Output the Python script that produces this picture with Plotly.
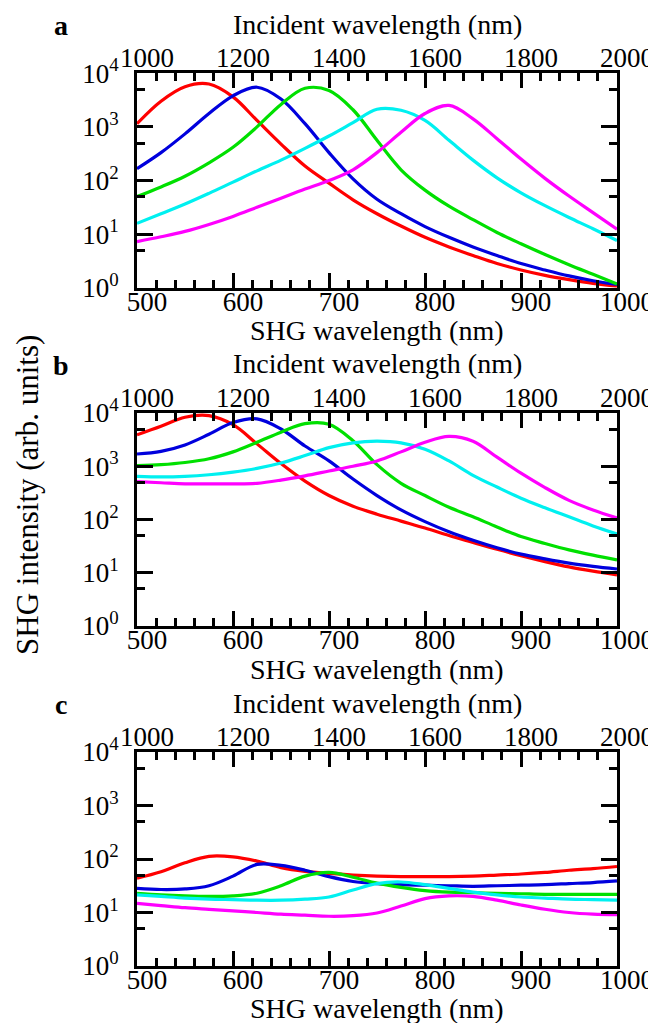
import plotly.graph_objects as go

# ---------------- data: log10(SHG intensity) read on a common SHG-wavelength grid ----------------
shg_x = [500, 525, 550, 575, 600, 625, 650, 675, 700, 725, 750, 775, 800, 825, 850, 875, 900, 925, 950, 975, 1000]

# Panel a
a_red = [3.06, 3.48, 3.75, 3.80, 3.56, 3.12, 2.68, 2.27, 1.95, 1.64, 1.38, 1.15, 0.94, 0.76, 0.60, 0.45, 0.33, 0.23, 0.15, 0.08, 0.03]
a_blue = [2.22, 2.52, 2.87, 3.25, 3.58, 3.74, 3.52, 3.06, 2.52, 2.03, 1.65, 1.38, 1.14, 0.94, 0.76, 0.60, 0.45, 0.33, 0.22, 0.13, 0.06]
a_green = [1.70, 1.88, 2.08, 2.33, 2.62, 3.00, 3.42, 3.72, 3.68, 3.32, 2.75, 2.20, 1.82, 1.52, 1.27, 1.03, 0.82, 0.62, 0.43, 0.25, 0.07]
a_cyan = [1.20, 1.38, 1.56, 1.76, 1.97, 2.18, 2.38, 2.60, 2.83, 3.08, 3.33, 3.31, 3.12, 2.75, 2.38, 2.05, 1.77, 1.53, 1.31, 1.10, 0.88]
a_magenta = [0.86, 0.95, 1.05, 1.18, 1.33, 1.50, 1.67, 1.84, 2.00, 2.20, 2.52, 2.90, 3.25, 3.40, 3.15, 2.78, 2.40, 2.04, 1.71, 1.40, 1.09]

# Panel b
b_red = [3.59, 3.75, 3.92, 3.95, 3.78, 3.42, 3.05, 2.72, 2.45, 2.25, 2.10, 1.97, 1.84, 1.70, 1.57, 1.44, 1.32, 1.21, 1.11, 1.03, 0.96]
b_blue = [3.23, 3.28, 3.40, 3.60, 3.82, 3.89, 3.70, 3.38, 3.10, 2.76, 2.45, 2.18, 1.96, 1.77, 1.61, 1.47, 1.35, 1.26, 1.18, 1.12, 1.07]
b_green = [3.01, 3.03, 3.07, 3.14, 3.27, 3.45, 3.64, 3.80, 3.79, 3.48, 3.03, 2.68, 2.45, 2.23, 2.05, 1.86, 1.68, 1.55, 1.43, 1.33, 1.24]
b_cyan = [2.81, 2.80, 2.81, 2.84, 2.89, 2.96, 3.06, 3.20, 3.35, 3.44, 3.47, 3.44, 3.32, 3.10, 2.83, 2.61, 2.40, 2.22, 2.05, 1.88, 1.73]
b_magenta = [2.71, 2.69, 2.67, 2.67, 2.67, 2.68, 2.74, 2.82, 2.91, 3.00, 3.10, 3.27, 3.45, 3.56, 3.47, 3.17, 2.87, 2.60, 2.36, 2.18, 2.03]

# Panel c
c_red = [1.64, 1.76, 1.93, 2.05, 2.04, 1.96, 1.84, 1.77, 1.73, 1.70, 1.68, 1.67, 1.67, 1.67, 1.68, 1.70, 1.72, 1.75, 1.79, 1.82, 1.86]
c_blue = [1.45, 1.43, 1.44, 1.50, 1.68, 1.90, 1.88, 1.79, 1.67, 1.58, 1.54, 1.52, 1.51, 1.50, 1.49, 1.50, 1.51, 1.52, 1.54, 1.56, 1.59]
c_green = [1.36, 1.33, 1.31, 1.30, 1.31, 1.36, 1.50, 1.68, 1.75, 1.66, 1.55, 1.47, 1.41, 1.38, 1.37, 1.36, 1.35, 1.34, 1.34, 1.34, 1.34]
c_cyan = [1.33, 1.30, 1.27, 1.25, 1.24, 1.23, 1.23, 1.25, 1.29, 1.42, 1.54, 1.57, 1.52, 1.45, 1.38, 1.33, 1.29, 1.27, 1.25, 1.24, 1.23]
c_magenta = [1.17, 1.13, 1.09, 1.06, 1.03, 1.00, 0.97, 0.95, 0.93, 0.94, 0.99, 1.12, 1.26, 1.31, 1.30, 1.23, 1.14, 1.06, 1.00, 0.97, 0.96]

colors = ["#ff0000", "#0000dd", "#00e000", "#00f0f0", "#ff00ff"]
panel_labels = ["a", "b", "c"]
y_tickvals = [1, 10, 100, 1000, 10000]
y_ticktext = ["10<sup>0</sup>", "10<sup>1</sup>", "10<sup>2</sup>", "10<sup>3</sup>", "10<sup>4</sup>"]
y_minorvals = [5, 50, 500, 5000]
bottom_title = "SHG wavelength (nm)"
top_title = "Incident wavelength (nm)"
y_title = "SHG intensity (arb. units)"

panels = [
    [a_red, a_blue, a_green, a_cyan, a_magenta],
    [b_red, b_blue, b_green, b_cyan, b_magenta],
    [c_red, c_blue, c_green, c_cyan, c_magenta],
]

# The page body has an 8 px margin, so the figure is drawn 8 px right/down of the window corner.
OFF = 8
W, H = 656 - OFF, 1023 - OFF
FONT = "Liberation Serif"


def px_x(p):  # screen x pixel -> paper fraction
    return (p - OFF) / W


def px_y(p):  # screen y pixel (from top) -> paper fraction
    return 1 - (p - OFF) / H


x_dom = [px_x(137), px_x(617)]
frames = [(73.3, 287.7), (413.0, 626.0), (752.0, 966.0)]  # top, bottom screen pixel
bottom_title_gap = [43, 43, 42]

fig = go.Figure()
layout = dict(
    template="none",
    width=W, height=H, margin=dict(l=0, r=0, t=0, b=0, pad=0), autosize=False,
    paper_bgcolor="white", plot_bgcolor="white", showlegend=False,
    font=dict(family=FONT, size=27, color="black"),
)
annotations = []

for i, series in enumerate(panels):
    xb = 2 * i + 1
    xt = 2 * i + 2
    yi = i + 1
    xb_name = "x" if xb == 1 else f"x{xb}"
    xt_name = f"x{xt}"
    y_name = "y" if yi == 1 else f"y{yi}"
    for ys, col in zip(series, colors):
        fig.add_trace(go.Scatter(
            x=shg_x, y=[10 ** v for v in ys], mode="lines",
            line=dict(color=col, width=3.2, shape="spline", smoothing=1.0),
            xaxis=xb_name, yaxis=y_name, hoverinfo="skip",
        ))
    # invisible trace so the incident-wavelength (top) axis is drawn
    fig.add_trace(go.Scatter(
        x=[2 * v for v in shg_x], y=[10 ** v for v in series[0]], mode="lines",
        line=dict(width=0, color="rgba(0,0,0,0)"), opacity=0,
        xaxis=xt_name, yaxis=y_name, hoverinfo="skip",
    ))
    top, bot = frames[i]
    dom = [px_y(bot), px_y(top)]
    layout[f"xaxis{xb}"] = dict(
        domain=x_dom, range=[500, 1000], anchor=y_name, automargin=False,
        tickmode="linear", tick0=500, dtick=100,
        ticks="inside", ticklen=15, tickwidth=2.5, tickcolor="black",
        minor=dict(ticks="inside", dtick=20, tick0=500, ticklen=8, tickwidth=2.5, tickcolor="black", showgrid=False),
        showline=True, linewidth=3, linecolor="black", mirror=True,
        showgrid=False, zeroline=False, ticklabelshift=10, ticklabelstandoff=-12,
        tickfont=dict(family=FONT, size=27, color="black"),
    )
    layout[f"xaxis{xt}"] = dict(
        domain=x_dom, range=[1000, 2000], anchor=y_name, overlaying=xb_name, side="top",
        automargin=False,
        tickmode="linear", tick0=1000, dtick=200,
        ticks="inside", ticklen=15, tickwidth=2.5, tickcolor="black",
        minor=dict(ticks="inside", dtick=40, tick0=1000, ticklen=8, tickwidth=2.5, tickcolor="black", showgrid=False),
        showline=False, showgrid=False, zeroline=False, ticklabelshift=10, ticklabelstandoff=0,
        tickfont=dict(family=FONT, size=27, color="black"),
    )
    layout[f"yaxis{yi}"] = dict(
        domain=dom, type="log", range=[0, 4], anchor=xb_name, automargin=False,
        tickmode="array", tickvals=y_tickvals, ticktext=y_ticktext,
        ticks="inside", ticklen=16, tickwidth=2.5, tickcolor="black",
        minor=dict(ticks="inside", tickmode="array", tickvals=y_minorvals, ticklen=8, tickwidth=2.5,
                   tickcolor="black", showgrid=False),
        showline=True, linewidth=3, linecolor="black", mirror="ticks",
        showgrid=False, zeroline=False, ticklabelstandoff=10,
        tickfont=dict(family=FONT, size=27, color="black"),
    )
    annotations.append(dict(text=f"<b>{panel_labels[i]}</b>", x=px_x(61), y=px_y(top - 48),
                            xref="paper", yref="paper", showarrow=False, xanchor="center", yanchor="middle",
                            font=dict(family=FONT, size=28, color="black")))
    annotations.append(dict(text=top_title, x=px_x(377), y=px_y(top - 49),
                            xref="paper", yref="paper", showarrow=False, xanchor="center", yanchor="middle",
                            font=dict(family=FONT, size=28, color="black")))
    annotations.append(dict(text=bottom_title, x=px_x(377), y=px_y(bot + bottom_title_gap[i]),
                            xref="paper", yref="paper", showarrow=False, xanchor="center", yanchor="middle",
                            font=dict(family=FONT, size=28, color="black")))

annotations.append(dict(text=y_title, x=px_x(27), y=px_y(495), xref="paper", yref="paper",
                        showarrow=False, textangle=-90, xanchor="center", yanchor="middle",
                        font=dict(family=FONT, size=31, color="black")))
layout["annotations"] = annotations
fig.update_layout(**layout)
fig.write_html("out.html")
